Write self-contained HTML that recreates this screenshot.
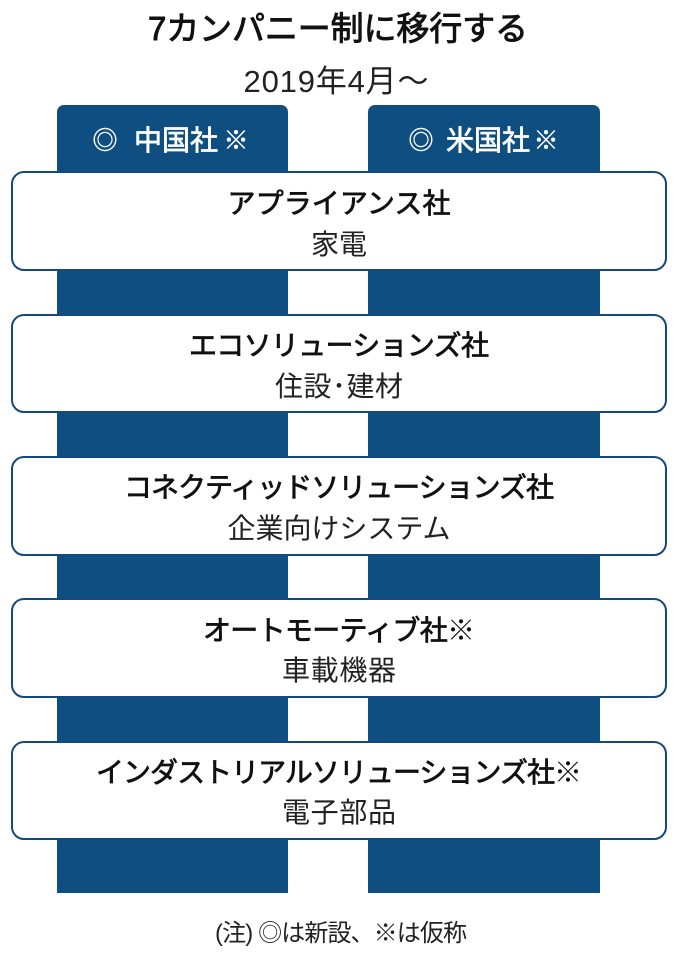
<!DOCTYPE html>
<html lang="ja"><head><meta charset="utf-8">
<style>
html,body{margin:0;padding:0;background:#fff}
svg{display:block}
text{font-family:"Liberation Sans","Noto Sans CJK JP",sans-serif;fill:#111}
.b{font-size:28px;stroke:#111;stroke-width:.75px}
.r{font-size:28px;fill:#222}
.w{font-size:28px;fill:#fff;stroke:#fff;stroke-width:.75px}
.s{font-size:25px;fill:#fff;stroke:#fff;stroke-width:.4px}
.n{stroke:none}
</style></head><body>
<svg width="680" height="963" viewBox="0 0 680 963" xmlns="http://www.w3.org/2000/svg">
<text x="338" y="40" text-anchor="middle" font-size="33" style="stroke:#111;stroke-width:.9px" textLength="380" lengthAdjust="spacing">7カンパニー制に移行する</text>
<text x="336" y="92" text-anchor="middle" font-size="31" style="fill:#222" textLength="185" lengthAdjust="spacing">2019年4月～</text>
<path d="M57 893V112a7 7 0 0 1 7-7H281a7 7 0 0 1 7 7V893Z" fill="#0f4e80"/>
<path d="M368 893V112a7 7 0 0 1 7-7H593a7 7 0 0 1 7 7V893Z" fill="#0f4e80"/>
<text class="s" x="105" y="149" text-anchor="middle">◎</text>
<text class="w" x="134" y="150" textLength="84" lengthAdjust="spacing">中国社</text>
<text class="s" x="236" y="149" text-anchor="middle">※</text>
<text class="s" x="421" y="149" text-anchor="middle">◎</text>
<text class="w" x="446" y="150" textLength="84" lengthAdjust="spacing">米国社</text>
<text class="s" x="546" y="149" text-anchor="middle">※</text>
<g fill="#fff" stroke="#14497c" stroke-width="2">
<rect x="12" y="172" width="654" height="98" rx="12"/>
<rect x="12" y="315" width="654" height="97" rx="12"/>
<rect x="12" y="457" width="654" height="98" rx="12"/>
<rect x="12" y="599" width="654" height="98" rx="12"/>
<rect x="12" y="742" width="654" height="97" rx="12"/>
</g>
<text class="b" x="339" y="213" text-anchor="middle" textLength="223" lengthAdjust="spacing">アプライアンス社</text>
<text class="r" x="339" y="254" text-anchor="middle" textLength="56" lengthAdjust="spacing">家電</text>
<text class="b" x="339" y="355" text-anchor="middle" textLength="300" lengthAdjust="spacing">エコソリューションズ社</text>
<text class="r" x="339" y="396" text-anchor="middle" textLength="128" lengthAdjust="spacing">住設･建材</text>
<text class="b" x="339" y="497" text-anchor="middle" textLength="430" lengthAdjust="spacing">コネクティッドソリューションズ社</text>
<text class="r" x="339" y="538" text-anchor="middle" textLength="223" lengthAdjust="spacing">企業向けシステム</text>
<text class="b" x="339" y="640" text-anchor="middle" textLength="272" lengthAdjust="spacing">オートモーティブ社<tspan class="n">※</tspan></text>
<text class="r" x="339" y="680" text-anchor="middle" textLength="114" lengthAdjust="spacing">車載機器</text>
<text class="b" x="339" y="782" text-anchor="middle" textLength="486" lengthAdjust="spacing">インダストリアルソリューションズ社<tspan class="n">※</tspan></text>
<text class="r" x="339" y="822" text-anchor="middle" textLength="114" lengthAdjust="spacing">電子部品</text>
<text x="341" y="941" text-anchor="middle" font-size="24" style="fill:#222" textLength="252" lengthAdjust="spacing">(注) ◎は新設、※は仮称</text>
</svg>
</body></html>
